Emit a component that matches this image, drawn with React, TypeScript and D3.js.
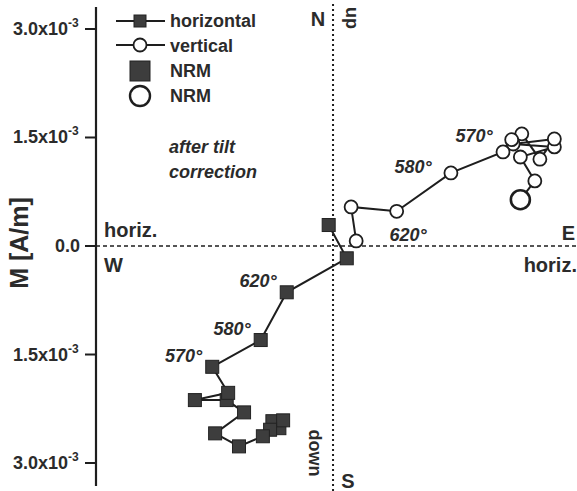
import React from "react";
import * as d3 from "d3";

// Values in units of 1e-3 A/m
const horizontalX = [-0.79, -0.69, -0.87, -0.97, -1.30, -1.63, -1.23, -1.47, -1.91, -1.45, -1.67, -1.00, -0.64, 0.19, -0.06];
const horizontalY = [-2.47, -2.41, -2.54, -2.63, -2.77, -2.59, -2.30, -2.13, -2.13, -2.03, -1.67, -1.30, -0.64, -0.17, 0.29];
const verticalX = [2.59, 2.79, 2.59, 3.06, 2.49, 3.06, 2.86, 2.61, 2.47, 2.35, 1.63, 0.88, 0.25, 0.32];
const verticalY = [0.64, 0.90, 1.23, 1.37, 1.41, 1.48, 1.20, 1.55, 1.47, 1.30, 1.01, 0.48, 0.54, 0.07];
const yTicks = [3, 1.5, 0, -1.5, -3];
const yTickLabels = ["3.0x10", "1.5x10", "0.0", "1.5x10", "3.0x10"];
const yTickExps = ["-3", "-3", "", "-3", "-3"];
const hTempLabels = [
  { i: 12, t: "620°" },
  { i: 11, t: "580°" },
  { i: 10, t: "570°" },
];
const vTempLabels = [
  { i: 9, t: "570°" },
  { i: 10, t: "580°" },
  { i: 11, t: "620°" },
];

const W = 577;
const H = 491;
const FONT = "'Liberation Sans', Arial, sans-serif";
const TXT = "#2b2b2b";
const INK = "#1e1e1e";
const SQ = "#3d3d3d";

export default function App() {
  const x = d3.scaleLinear().domain([-3.277, 3.373]).range([96, 577]);
  const y = d3.scaleLinear().domain([3.29, -3.29]).range([8, 484]);

  const hPts = horizontalX.map((v, i) => [x(v), y(horizontalY[i])] as [number, number]);
  const vPts = verticalX.map((v, i) => [x(v), y(verticalY[i])] as [number, number]);
  const line = d3.line();

  const sq = 13;
  const nrmSq = 20;

  return (
    <svg
      width={W}
      height={H}
      style={{ position: "absolute", left: 0, top: 0, background: "#fff" }}
      fontFamily={FONT}
    >
      {/* zero lines */}
      <line x1={x(0)} x2={x(0)} y1={4} y2={H} stroke={INK} strokeWidth={2} strokeDasharray="2,3" />
      <line x1={96} x2={W} y1={y(0)} y2={y(0)} stroke={INK} strokeWidth={1.6} strokeDasharray="4,3" />

      {/* y axis */}
      <line x1={96} x2={96} y1={7} y2={486} stroke={INK} strokeWidth={2.2} />
      {yTicks.map((t, i) => (
        <g key={i}>
          <line x1={85} x2={96} y1={y(t)} y2={y(t)} stroke={INK} strokeWidth={2} />
          <text x={yTickExps[i] ? 68 : 80} y={y(t) + 6} textAnchor="end" fontSize={18} fontWeight="bold" fill={TXT}>
            {yTickLabels[i]}
          </text>
          {yTickExps[i] && (
            <text x={68} y={y(t) - 2} fontSize={12} fontWeight="bold" fill={TXT}>
              {yTickExps[i]}
            </text>
          )}
        </g>
      ))}
      <text
        transform={`translate(28, ${y(0) - 3}) rotate(-90)`}
        textAnchor="middle"
        fontSize={25}
        fontWeight="bold"
        fill={TXT}
      >
        M [A/m]
      </text>

      {/* paths */}
      <path d={line(hPts) || ""} fill="none" stroke={INK} strokeWidth={2} />
      <path d={line(vPts) || ""} fill="none" stroke={INK} strokeWidth={2} />

      {hPts.map((p, i) => {
        const s = i === 0 ? nrmSq : sq;
        return (
          <rect key={i} x={p[0] - s / 2} y={p[1] - s / 2} width={s} height={s} fill={SQ} stroke="#222" strokeWidth={1} />
        );
      })}
      {vPts.map((p, i) => (
        <circle key={i} cx={p[0]} cy={p[1]} r={i === 0 ? 9.5 : 6.5} fill="#fff" stroke={INK} strokeWidth={i === 0 ? 2.6 : 1.8} />
      ))}

      {/* temperature labels */}
      {hTempLabels.map((l, k) => (
        <text key={k} x={hPts[l.i][0] - 10} y={hPts[l.i][1] - 5} textAnchor="end" fontSize={18} fontWeight="bold" fontStyle="italic" fill={TXT}>
          {l.t}
        </text>
      ))}
      <text x={474} y={142} textAnchor="middle" fontSize={18} fontWeight="bold" fontStyle="italic" fill={TXT}>
        {vTempLabels[0].t}
      </text>
      <text x={413} y={173} textAnchor="middle" fontSize={18} fontWeight="bold" fontStyle="italic" fill={TXT}>
        {vTempLabels[1].t}
      </text>
      <text x={408} y={241} textAnchor="middle" fontSize={18} fontWeight="bold" fontStyle="italic" fill={TXT}>
        {vTempLabels[2].t}
      </text>

      {/* axis direction labels */}
      <text x={318} y={26} textAnchor="middle" fontSize={20} fontWeight="bold" fill={TXT}>N</text>
      <text transform="translate(346, 18) rotate(90)" textAnchor="middle" fontSize={18} fontWeight="bold" fill={TXT}>up</text>
      <text transform="translate(309, 453) rotate(90)" textAnchor="middle" fontSize={18} fontWeight="bold" fill={TXT}>down</text>
      <text x={348} y={488} textAnchor="middle" fontSize={20} fontWeight="bold" fill={TXT}>S</text>
      <text x={575} y={240} textAnchor="end" fontSize={20} fontWeight="bold" fill={TXT}>E</text>
      <text x={577} y={272} textAnchor="end" fontSize={20} fontWeight="bold" fill={TXT}>horiz.</text>
      <text x={104} y={237} fontSize={20} fontWeight="bold" fill={TXT}>horiz.</text>
      <text x={104} y={272} fontSize={20} fontWeight="bold" fill={TXT}>W</text>

      {/* legend */}
      <line x1={116} x2={165} y1={21} y2={21} stroke={INK} strokeWidth={2} />
      <rect x={134} y={15} width={12} height={12} fill={SQ} stroke="#222" strokeWidth={1} />
      <text x={170} y={27} fontSize={18} fontWeight="bold" fill={TXT}>horizontal</text>
      <line x1={116} x2={165} y1={45} y2={45} stroke={INK} strokeWidth={2} />
      <circle cx={140} cy={45} r={6.5} fill="#fff" stroke={INK} strokeWidth={1.8} />
      <text x={170} y={52} fontSize={18} fontWeight="bold" fill={TXT}>vertical</text>
      <rect x={130} y={61} width={20} height={20} fill={SQ} stroke="#222" strokeWidth={1} />
      <text x={170} y={77} fontSize={18} fontWeight="bold" fill={TXT}>NRM</text>
      <circle cx={140} cy={96} r={10} fill="#fff" stroke={INK} strokeWidth={2.4} />
      <text x={170} y={102} fontSize={18} fontWeight="bold" fill={TXT}>NRM</text>

      <text x={169} y={153} fontSize={18} fontWeight="bold" fontStyle="italic" fill={TXT}>after tilt</text>
      <text x={169} y={178} fontSize={18} fontWeight="bold" fontStyle="italic" fill={TXT}>correction</text>
    </svg>
  );
}
